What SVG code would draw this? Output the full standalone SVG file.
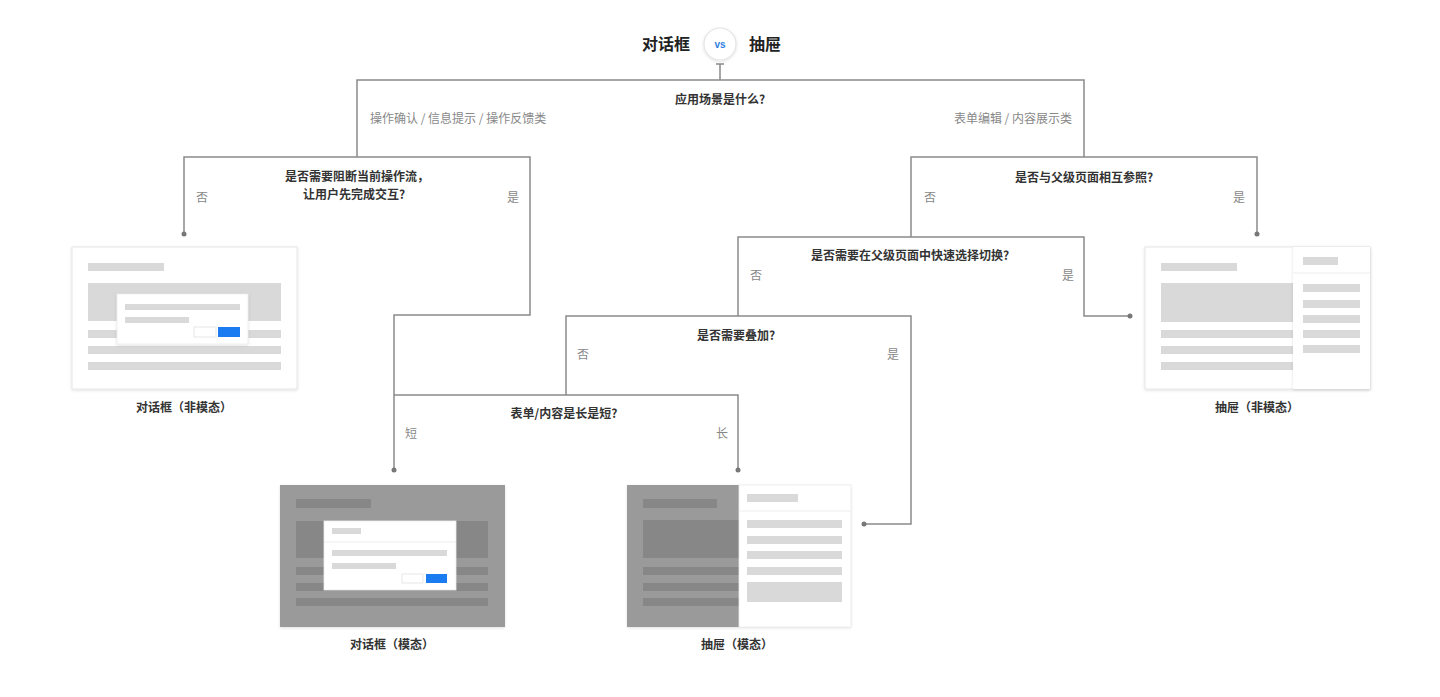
<svg xmlns="http://www.w3.org/2000/svg" width="1440" height="697" viewBox="0 0 1440 697">
<defs>
<style>
text{font-family:"Noto Sans CJK SC","Noto Sans",sans-serif}
.title{font-size:16px;font-weight:700;fill:#222;text-anchor:middle}
.q{font-size:12px;font-weight:700;fill:#333;text-anchor:middle}
.lab{font-size:12px;fill:#888}
.c{text-anchor:middle}
.name{font-size:12px;font-weight:700;fill:#333;text-anchor:middle}
.conn{fill:none;stroke:#8a8a8a;stroke-width:1.5}
.dot{fill:#777}
.frame{fill:#fff;stroke:#e6e6e6;stroke-width:1}
.g{fill:#d9d9d9}
.dk{fill:#9a9a9a}
.dk2{fill:#878787}
.blue{fill:#1a7cf0}
.btn{fill:#fff;stroke:#e2e2e2;stroke-width:0.8}
.pop{fill:#fff;stroke:#ececec;stroke-width:0.8}
</style>
<filter id="sh" x="-10%" y="-10%" width="120%" height="125%">
<feDropShadow dx="0" dy="1" stdDeviation="1.5" flood-color="#000" flood-opacity="0.12"/>
</filter>
</defs>
<rect width="1440" height="697" fill="#fff"/>

<g id="title">
<text class="title" x="666" y="50">对话框</text>
<circle cx="720" cy="44" r="16" fill="#fff" stroke="#e4e4e4" stroke-width="1.2" filter="url(#sh)"/>
<text x="720" y="48" font-size="10" font-weight="700" fill="#2f7fe0" text-anchor="middle" style="font-family:'Liberation Sans',sans-serif">vs</text>
<text class="title" x="765" y="50">抽屉</text>
</g>

<g id="connectors">
<path class="conn" d="M716 64 H724 M720 64 V80"/>
<path class="conn" d="M357 157 V80 H1084 V157"/>
<path class="conn" d="M184 234 V157 H530 V315 H394 V470"/>
<path class="conn" d="M911 237 V157 H1257 V234"/>
<path class="conn" d="M738 316 V237 H1084 V316 H1130"/>
<path class="conn" d="M566 395 V316 H911 V524 H864"/>
<path class="conn" d="M394 395 H738 V470"/>
<circle class="dot" cx="184" cy="234" r="2.5"/>
<circle class="dot" cx="1257" cy="234" r="2.5"/>
<circle class="dot" cx="1130" cy="316" r="2.5"/>
<circle class="dot" cx="864" cy="524" r="2.5"/>
<circle class="dot" cx="394" cy="470" r="2.5"/>
<circle class="dot" cx="738" cy="470" r="2.5"/>
</g>

<g id="q1">
<text class="q" x="720" y="104">应用场景是什么?</text>
<text class="lab" x="370" y="123">操作确认 / 信息提示 / 操作反馈类</text>
<text class="lab" x="1072" y="123" text-anchor="end">表单编辑 / 内容展示类</text>
</g>
<g id="q2">
<text class="q" x="357" y="181">是否需要阻断当前操作流，</text>
<text class="q" x="354" y="199">让用户先完成交互?</text>
<text class="lab c" x="202" y="202">否</text>
<text class="lab c" x="513" y="202">是</text>
</g>
<g id="q3">
<text class="q" x="1084" y="182">是否与父级页面相互参照?</text>
<text class="lab c" x="930" y="202">否</text>
<text class="lab c" x="1239" y="202">是</text>
</g>
<g id="q4">
<text class="q" x="910" y="260">是否需要在父级页面中快速选择切换?</text>
<text class="lab c" x="756" y="280">否</text>
<text class="lab c" x="1068" y="280">是</text>
</g>
<g id="q5">
<text class="q" x="736" y="340">是否需要叠加?</text>
<text class="lab c" x="583" y="359">否</text>
<text class="lab c" x="893" y="359">是</text>
</g>
<g id="q6">
<text class="q" x="564" y="418">表单/内容是长是短?</text>
<text class="lab c" x="411" y="438">短</text>
<text class="lab c" x="722" y="438">长</text>
</g>

<g id="dialog-nonmodal">
<rect class="frame" x="72" y="247" width="225" height="142" filter="url(#sh)"/>
<rect class="g" x="88" y="263" width="76" height="8"/>
<rect class="g" x="88" y="283" width="193" height="38"/>
<rect class="g" x="88" y="330" width="193" height="8"/>
<rect class="g" x="88" y="346" width="193" height="8"/>
<rect class="g" x="88" y="362" width="193" height="8"/>
<rect class="pop" x="117" y="294" width="131" height="50" filter="url(#sh)"/>
<rect class="g" x="125" y="304" width="115" height="6"/>
<rect class="g" x="125" y="317" width="64" height="6"/>
<rect class="btn" x="194" y="327" width="22" height="10"/>
<rect class="blue" x="218" y="327" width="22" height="10"/>
<text class="name" x="184" y="412">对话框（非模态）</text>
</g>

<g id="drawer-nonmodal">
<rect class="frame" x="1145" y="247" width="225" height="142" filter="url(#sh)"/>
<rect class="g" x="1161" y="263" width="76" height="8"/>
<rect class="g" x="1161" y="283" width="132" height="39"/>
<rect class="g" x="1161" y="330" width="132" height="8"/>
<rect class="g" x="1161" y="346" width="132" height="8"/>
<rect class="g" x="1161" y="362" width="132" height="8"/>
<rect x="1293" y="247" width="77" height="142" fill="#fff" filter="url(#sh)"/>
<line x1="1293" y1="273" x2="1370" y2="273" stroke="#ededed" stroke-width="1"/>
<rect class="g" x="1303" y="257" width="35" height="8"/>
<rect class="g" x="1303" y="284" width="57" height="8"/>
<rect class="g" x="1303" y="300" width="57" height="8"/>
<rect class="g" x="1303" y="315" width="57" height="8"/>
<rect class="g" x="1303" y="330" width="57" height="8"/>
<rect class="g" x="1303" y="345" width="57" height="8"/>
<text class="name" x="1257" y="412">抽屉（非模态）</text>
</g>

<g id="dialog-modal">
<rect x="280" y="485" width="225" height="142" class="dk" filter="url(#sh)"/>
<rect class="dk2" x="296" y="499" width="75" height="9"/>
<rect class="dk2" x="296" y="521" width="192" height="37"/>
<rect class="dk2" x="296" y="567" width="192" height="8"/>
<rect class="dk2" x="296" y="583" width="192" height="8"/>
<rect class="dk2" x="296" y="598" width="192" height="8"/>
<rect class="pop" x="324" y="521" width="132" height="69"/>
<rect class="g" x="332" y="528" width="29" height="6"/>
<line x1="324" y1="542" x2="456" y2="542" stroke="#ededed" stroke-width="1"/>
<rect class="g" x="332" y="550" width="115" height="6"/>
<rect class="g" x="332" y="563" width="64" height="6"/>
<rect class="btn" x="402" y="574" width="21" height="9"/>
<rect class="blue" x="426" y="574" width="21" height="9"/>
<text class="name" x="392" y="649">对话框（模态）</text>
</g>

<g id="drawer-modal">
<rect x="627" y="485" width="224" height="142" class="dk" filter="url(#sh)"/>
<rect class="dk2" x="643" y="499" width="74" height="9"/>
<rect class="dk2" x="643" y="520" width="96" height="38"/>
<rect class="dk2" x="643" y="567" width="96" height="8"/>
<rect class="dk2" x="643" y="583" width="96" height="8"/>
<rect class="dk2" x="643" y="598" width="96" height="8"/>
<rect x="739" y="485" width="112" height="142" fill="#fff" stroke="#ececec" stroke-width="0.8"/>
<line x1="739" y1="511" x2="851" y2="511" stroke="#ededed" stroke-width="1"/>
<rect class="g" x="747" y="494" width="51" height="8"/>
<rect class="g" x="747" y="520" width="95" height="8"/>
<rect class="g" x="747" y="536" width="95" height="8"/>
<rect class="g" x="747" y="551" width="95" height="8"/>
<rect class="g" x="747" y="567" width="95" height="8"/>
<rect class="g" x="747" y="582" width="95" height="20"/>
<text class="name" x="737" y="649">抽屉（模态）</text>
</g>
</svg>
